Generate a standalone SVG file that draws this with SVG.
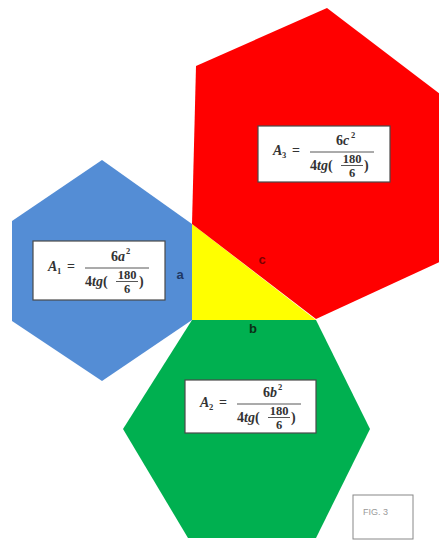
<svg xmlns="http://www.w3.org/2000/svg" width="439" height="540" viewBox="0 0 439 540">
<style>
.box{fill:#fff;stroke:#4a4a4a;stroke-width:1.2}
.f{font-family:"Liberation Serif","DejaVu Serif",serif;font-size:14px;fill:#333;font-weight:bold}
.fs{font-family:"Liberation Serif","DejaVu Serif",serif;font-size:8.5px;fill:#333;font-weight:bold}
.fi{font-family:"Liberation Serif","DejaVu Serif",serif;font-size:12.5px;fill:#333;font-weight:bold;text-anchor:middle}
.it{font-style:italic}
.ln{stroke:#444;stroke-width:0.9}
.lbl{font-family:"Liberation Sans","DejaVu Sans",sans-serif;font-size:13px;font-weight:bold;text-anchor:middle}
</style>
<rect width="439" height="540" fill="#fff"/>
<g id="triangle"><polygon points="192,224 192,320 316,320" fill="#FFFF00"/></g>
<g id="hex-c">
<polygon points="316,319 192,224 196,66 327,8 470,117 470,248" fill="#FF0000"/>
<g transform="translate(258,126)">
<rect class="box" x="0" y="0" width="132" height="56"/>
<text class="f it" x="15" y="29">A</text><text class="fs" x="24" y="32">3</text>
<text class="f" x="34" y="29">=</text>
<text class="f" x="78" y="19">6<tspan class="it">c</tspan></text><text class="fs" x="93" y="12">2</text>
<line class="ln" x1="52" y1="26" x2="116" y2="26"/>
<text class="f" x="52" y="44">4<tspan class="it">tg</tspan>(</text>
<text class="fi" x="94" y="37">180</text>
<line class="ln" x1="83" y1="39.5" x2="105" y2="39.5"/>
<text class="fi" x="94" y="51">6</text>
<text class="f" x="106" y="44">)</text>
</g>
</g>
<g id="hex-a">
<polygon points="102,160 12,221 12,321 102,381 192,320 192,224" fill="#548DD5"/>
<g transform="translate(33,241)">
<rect class="box" x="0" y="0" width="132" height="59"/>
<text class="f it" x="15" y="30">A</text><text class="fs" x="24" y="33">1</text>
<text class="f" x="34" y="30">=</text>
<text class="f" x="78" y="20">6<tspan class="it">a</tspan></text><text class="fs" x="93" y="13">2</text>
<line class="ln" x1="52" y1="27" x2="116" y2="27"/>
<text class="f" x="52" y="45">4<tspan class="it">tg</tspan>(</text>
<text class="fi" x="94" y="38">180</text>
<line class="ln" x1="83" y1="40.5" x2="105" y2="40.5"/>
<text class="fi" x="94" y="52">6</text>
<text class="f" x="106" y="45">)</text>
</g>
</g>
<g id="hex-b">
<polygon points="192,320 316,320 370,429 316,538 188,538 123,429" fill="#00B050"/>
<g transform="translate(185,380)">
<rect class="box" x="0" y="0" width="131" height="53"/>
<text class="f it" x="15" y="27">A</text><text class="fs" x="24" y="30">2</text>
<text class="f" x="34" y="27">=</text>
<text class="f" x="78" y="17">6<tspan class="it">b</tspan></text><text class="fs" x="93" y="10">2</text>
<line class="ln" x1="52" y1="24" x2="116" y2="24"/>
<text class="f" x="52" y="42">4<tspan class="it">tg</tspan>(</text>
<text class="fi" x="94" y="35">180</text>
<line class="ln" x1="83" y1="37.5" x2="105" y2="37.5"/>
<text class="fi" x="94" y="49">6</text>
<text class="f" x="106" y="42">)</text>
</g>
</g>
<g id="labels">
<text class="lbl" x="180" y="279" fill="#1F3864">a</text>
<text class="lbl" x="262" y="264" fill="#7A0000">c</text>
<text class="lbl" x="253" y="333" fill="#0B2E16">b</text>
</g>
<g id="fig">
<rect x="353" y="495" width="60" height="44" fill="#fff" stroke="#888" stroke-width="1"/>
<text x="363" y="515" font-family="Liberation Sans, DejaVu Sans, sans-serif" font-size="9" fill="#999">FIG. 3</text>
</g>
</svg>
